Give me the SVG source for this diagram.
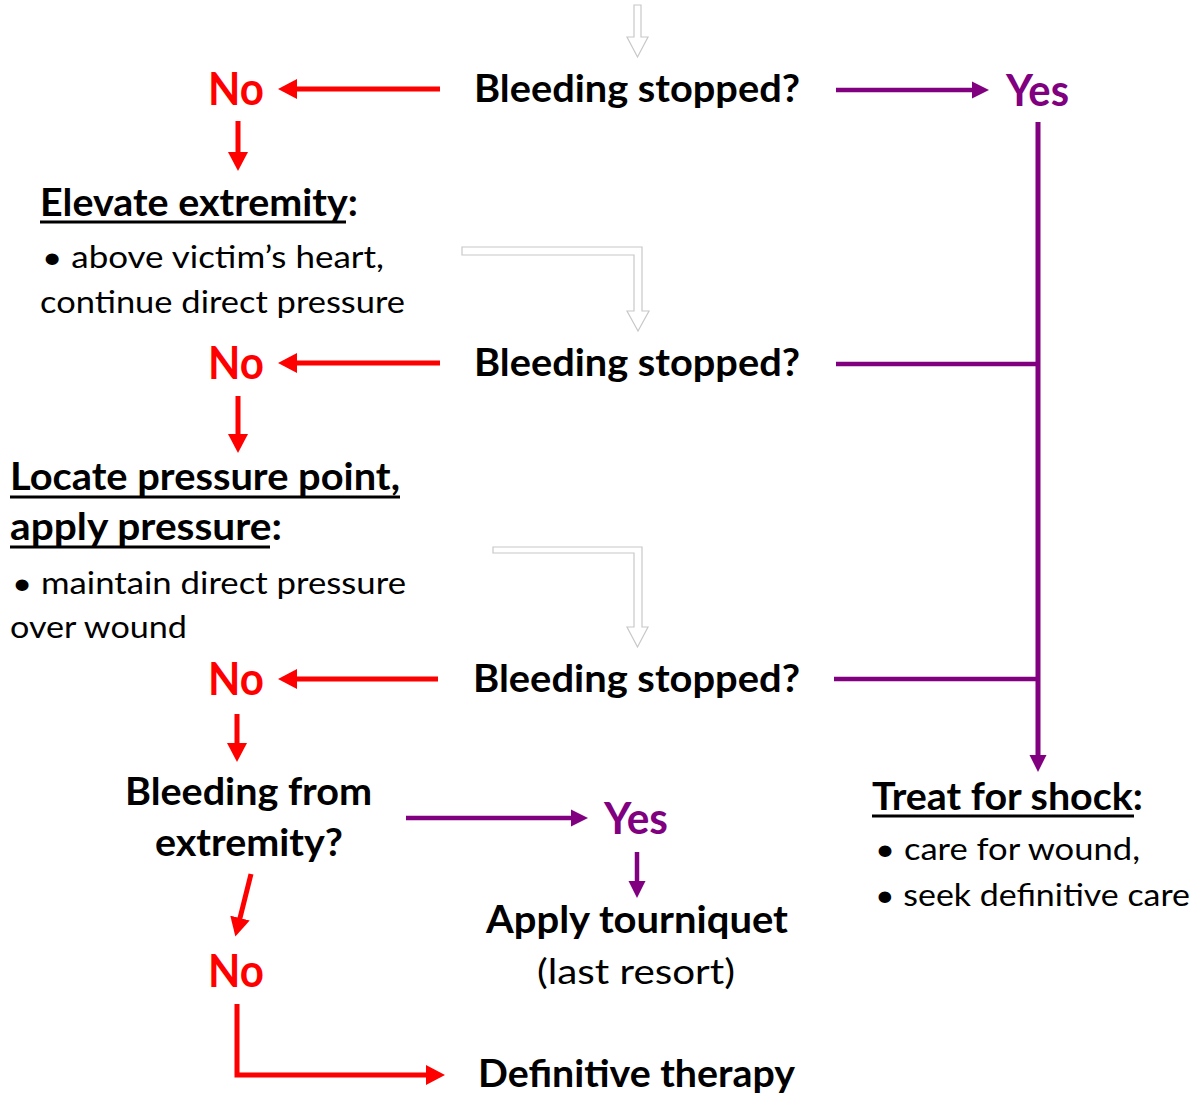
<svg xmlns="http://www.w3.org/2000/svg" width="1204" height="1097" viewBox="0 0 1204 1097">
<style>
text{font-family:Lato,"Liberation Sans",sans-serif;}
.b{font-weight:bold;font-size:38px;fill:#000;}
.r{font-size:31px;fill:#000;}
.no{font-weight:bold;font-size:46px;fill:#FF0000;}
.yes{font-weight:bold;font-size:44px;fill:#800080;}
.red{stroke:#FF0000;stroke-width:5;fill:none;}
.pur{stroke:#800080;stroke-width:4.5;fill:none;}
.ul{stroke:#000;stroke-width:3;}
.hollow{fill:#fff;stroke:#c8c8c8;stroke-width:1.2;}
</style>
<defs>
<marker id="ar" markerUnits="userSpaceOnUse" markerWidth="20" markerHeight="20" refX="2" refY="10" orient="auto" viewBox="0 0 20 20">
<path d="M0,0 L19,10 L0,20 Z" fill="#FF0000"/>
</marker>
<marker id="ap" markerUnits="userSpaceOnUse" markerWidth="18" markerHeight="18" refX="2" refY="8.5" orient="auto" viewBox="0 0 18 17">
<path d="M0,0 L17,8.5 L0,17 Z" fill="#800080"/>
</marker>
</defs>
<rect width="1204" height="1097" fill="#fff"/>
<g id="connectors">
<path class="hollow" d="M634,5 L641,5 L641,37 L648,37 L637.5,57 L627,37 L634,37 Z"/>
<path class="hollow" d="M462,247 L642,247 L642,311 L649,311 L638,331 L627,311 L634,311 L634,255 L462,255 Z"/>
<path class="hollow" d="M493,547 L642,547 L642,627 L648,627 L637.5,647 L627,627 L634,627 L634,553 L493,553 Z"/>
<line class="red" x1="440" y1="89" x2="295" y2="89" marker-end="url(#ar)"/>
<line class="red" x1="238" y1="121" x2="238" y2="154" marker-end="url(#ar)"/>
<line class="red" x1="440" y1="363" x2="295" y2="363" marker-end="url(#ar)"/>
<line class="red" x1="238" y1="396" x2="238" y2="436" marker-end="url(#ar)"/>
<line class="red" x1="438" y1="679" x2="295" y2="679" marker-end="url(#ar)"/>
<line class="red" x1="237" y1="714" x2="237" y2="745" marker-end="url(#ar)"/>
<line class="red" x1="251" y1="874" x2="239.5" y2="920" marker-end="url(#ar)"/>
<polyline class="red" points="237,1004 237,1075 428,1075" marker-end="url(#ar)"/>
<line class="pur" x1="836" y1="90" x2="974" y2="90" marker-end="url(#ap)"/>
<line class="pur" x1="1038" y1="122" x2="1038" y2="757" marker-end="url(#ap)" style="stroke-width:5"/>
<line class="pur" x1="836" y1="364" x2="1038" y2="364"/>
<line class="pur" x1="834" y1="679" x2="1038" y2="679"/>
<line class="pur" x1="406" y1="818" x2="573" y2="818" marker-end="url(#ap)"/>
<line class="pur" x1="637" y1="852" x2="637" y2="883" marker-end="url(#ap)"/>
</g>
<g id="q1"><text class="b" x="474" y="102" textLength="326" lengthAdjust="spacingAndGlyphs">Bleeding stopped?</text></g>
<g id="no1"><text class="no" x="208" y="105" textLength="56" lengthAdjust="spacingAndGlyphs">No</text></g>
<g id="yes1"><text class="yes" x="1006" y="106" textLength="63" lengthAdjust="spacingAndGlyphs">Yes</text></g>
<g id="elevate">
<text class="b" x="40" y="216" textLength="318" lengthAdjust="spacingAndGlyphs">Elevate extremity:</text>
<line class="ul" x1="40" y1="222" x2="346" y2="222"/>
<text class="r" x="42" y="268" textLength="342" lengthAdjust="spacingAndGlyphs">•  above victim’s heart,</text>
<text class="r" x="40" y="313" textLength="365" lengthAdjust="spacingAndGlyphs">continue direct pressure</text>
</g>
<g id="q2"><text class="b" x="474" y="376" textLength="326" lengthAdjust="spacingAndGlyphs">Bleeding stopped?</text></g>
<g id="no2"><text class="no" x="208" y="379" textLength="56" lengthAdjust="spacingAndGlyphs">No</text></g>
<g id="locate">
<text class="b" x="10" y="490" textLength="390" lengthAdjust="spacingAndGlyphs">Locate pressure point,</text>
<line class="ul" x1="10" y1="497" x2="400" y2="497"/>
<text class="b" x="10" y="540" textLength="272" lengthAdjust="spacingAndGlyphs">apply pressure:</text>
<line class="ul" x1="10" y1="547" x2="270" y2="547"/>
<text class="r" x="12" y="594" textLength="394" lengthAdjust="spacingAndGlyphs">•  maintain direct pressure</text>
<text class="r" x="10" y="638" textLength="177" lengthAdjust="spacingAndGlyphs">over wound</text>
</g>
<g id="q3"><text class="b" x="473" y="692" textLength="327" lengthAdjust="spacingAndGlyphs">Bleeding stopped?</text></g>
<g id="no3"><text class="no" x="208" y="695" textLength="56" lengthAdjust="spacingAndGlyphs">No</text></g>
<g id="q4">
<text class="b" x="125" y="805" textLength="247" lengthAdjust="spacingAndGlyphs">Bleeding from</text>
<text class="b" x="155" y="856" textLength="188" lengthAdjust="spacingAndGlyphs">extremity?</text>
</g>
<g id="yes2"><text class="yes" x="604" y="834" textLength="64" lengthAdjust="spacingAndGlyphs">Yes</text></g>
<g id="tourniquet">
<text class="b" x="486" y="933" textLength="302" lengthAdjust="spacingAndGlyphs">Apply tourniquet</text>
<text class="r" x="537" y="984" textLength="198" lengthAdjust="spacingAndGlyphs" style="font-size:34px">(last resort)</text>
</g>
<g id="no4"><text class="no" x="208" y="987" textLength="56" lengthAdjust="spacingAndGlyphs">No</text></g>
<g id="definitive"><text class="b" x="478" y="1087" textLength="317" lengthAdjust="spacingAndGlyphs">Definitive therapy</text></g>
<g id="shock">
<text class="b" x="872" y="810" textLength="271" lengthAdjust="spacingAndGlyphs">Treat for shock:</text>
<line class="ul" x1="872" y1="816" x2="1134" y2="816"/>
<text class="r" x="875" y="860" textLength="265" lengthAdjust="spacingAndGlyphs">•  care for wound,</text>
<text class="r" x="875" y="906" textLength="315" lengthAdjust="spacingAndGlyphs">•  seek definitive care</text>
</g>
</svg>
